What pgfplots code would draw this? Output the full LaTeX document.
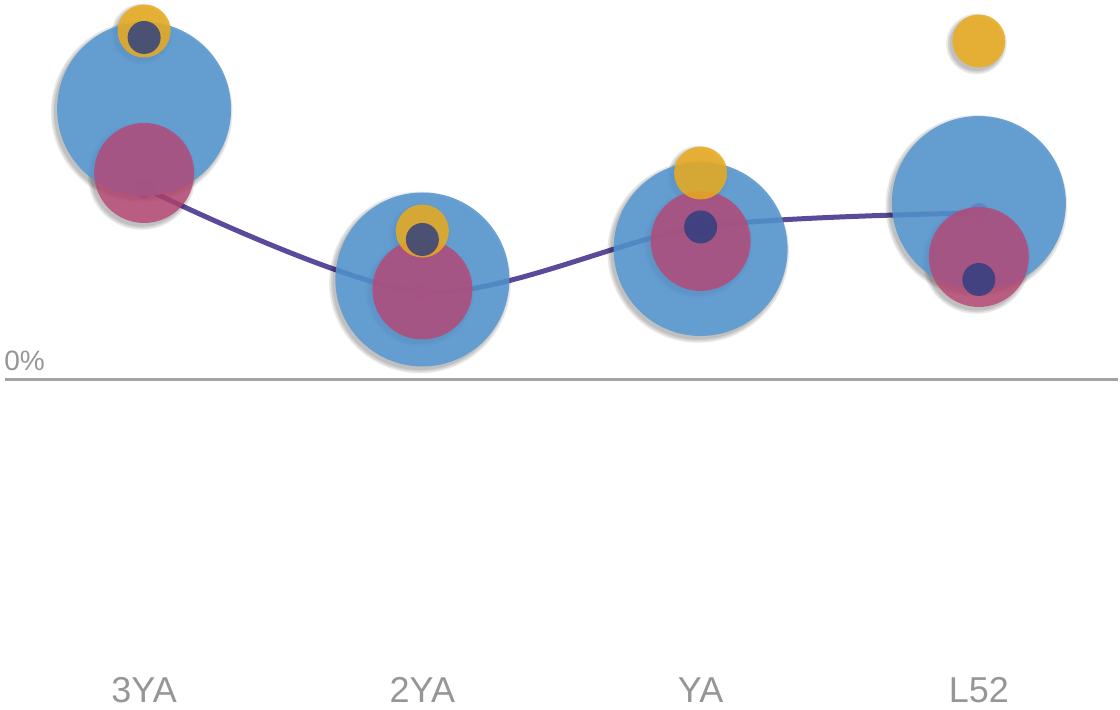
\documentclass[border=0pt]{standalone}
\usepackage{pgfplots}
\pgfplotsset{compat=1.18}
\usepackage{fontspec}
\setmainfont{Liberation Sans}

\definecolor{bubbleblue}{RGB}{84,150,210}
\definecolor{bubblepink}{RGB}{185,70,115}
\definecolor{bubbleyellow}{RGB}{234,172,28}
\definecolor{bubblenavy}{RGB}{45,62,128}
\definecolor{trendline}{RGB}{91,74,154}
\definecolor{axisgray}{RGB}{163,163,163}
\definecolor{labelgray}{RGB}{150,150,150}

\pgfplotsset{
  % filled disc with no outline: radius, colour, opacity
  disc/.style n args={3}{only marks, mark=*, mark size=#1,
    mark options={fill=#2, draw=#2, fill opacity=#3, draw opacity=0, line width=0pt}},
  % soft drop shadow under a circular mark of radius #1
  shadowlayer/.style={only marks, mark=*, mark size=#1,
    mark options={fill=black, fill opacity=0.09, draw opacity=0,
      line width=0pt, xshift=-1.2pt, yshift=-1.5pt}},
}

\begin{document}
\begin{tikzpicture}
\path[use as bounding box] (0,0) rectangle (560pt,355pt);
\begin{axis}[
  at={(2.5pt,25pt)}, anchor=south west,
  scale only axis,
  width=556.5pt, height=330pt,
  xmin=-0.5, xmax=3.5,
  ymin=-28, ymax=38,
  clip=false,
  axis line style={draw=none},
  xtick={0,1,2,3},
  xticklabels={3YA,2YA,YA,L52},
  xticklabel style={anchor=base, yshift=-21.5pt, font=\fontsize{18}{20}\selectfont, text=labelgray},
  ytick={0},
  yticklabels={},
  ymajorgrids,
  major grid style={draw=axisgray, line width=1.5pt},
  major tick length=0pt,
  tick style={draw=none},
]

% shadows (drawn beneath every layer)
\pgfplotsinvokeforeach{43.8pt,44.6pt,45.4pt}{
  \addplot[shadowlayer=#1] coordinates {(0,27.1) (1,10.05) (2,13.1) (3,17.7)};
}
\pgfplotsinvokeforeach{25.3pt,26.1pt,26.9pt}{
  \addplot[shadowlayer=#1] coordinates {(0,20.7) (1,9.05) (2,13.9) (3,12.3)};
}
\pgfplotsinvokeforeach{13.5pt,14.3pt,15.1pt}{
  \addplot[shadowlayer=#1] coordinates {(0,34.9) (1,14.9) (2,20.7) (3,33.9)};
}

% trend line
\addplot[trendline, line width=2.5pt, smooth, mark=*, mark size=5pt,
  mark options={fill=trendline, draw opacity=0, line width=0pt}]
  coordinates {(0,19.2) (1,8.8) (2,15.3) (3,16.7)};

% large blue bubbles
\addplot[disc={43.5pt}{bubbleblue}{0.85}]
  coordinates {(0,27.1) (1,10.05) (2,13.1) (3,17.7)};

% pink bubbles
\addplot[disc={25pt}{bubblepink}{0.8}]
  coordinates {(0,20.7) (1,9.05) (2,13.9) (3,12.3)};

% yellow bubbles
\addplot[disc={13.25pt}{bubbleyellow}{0.85}]
  coordinates {(0,34.9) (1,14.9) (2,20.7) (3,33.9)};

% navy dots
\addplot[disc={8.25pt}{bubblenavy}{0.82}]
  coordinates {(0,34.25) (1,14.05) (2,15.3) (3,10.05)};

\node[anchor=base west, inner sep=0pt, xshift=-0.5pt, yshift=4.5pt,
  font=\fontsize{14}{16}\selectfont, text=labelgray] at (axis cs:-0.5,0) {0\%};
\end{axis}
\end{tikzpicture}
\end{document}
